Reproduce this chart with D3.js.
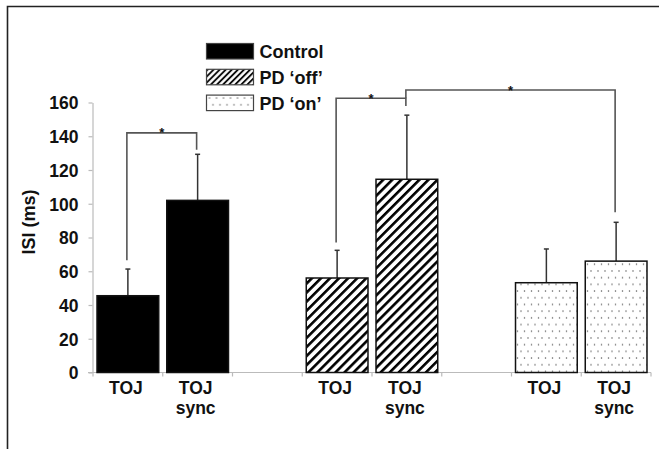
<!DOCTYPE html>
<html lang="en">
  <head>
    <meta charset="UTF-8" />
    <title>ISI bars</title>
    <script src="https://d3js.org/d3.v7.min.js"></script>
    <style>
      body { margin: 0; background: #fff; }
      svg text { font-family: "Liberation Sans", Arial, Helvetica, sans-serif; font-weight: bold; fill: #111; }
    </style>
  </head>
  <body>
    <svg width="659" height="449">
      <defs>
        <pattern id="hatch" patternUnits="userSpaceOnUse" width="6.4" height="6.4" patternTransform="rotate(45)">
          <rect width="6.4" height="6.4" fill="#fff"></rect>
          <line x1="1.3" y1="0" x2="1.3" y2="6.4" stroke="#000" stroke-width="2.6"></line>
        </pattern>
        <pattern id="hatchSmall" patternUnits="userSpaceOnUse" width="4.3" height="4.3" patternTransform="rotate(45)">
          <rect width="4.3" height="4.3" fill="#fff"></rect>
          <line x1="1" y1="0" x2="1" y2="4.3" stroke="#000" stroke-width="1.8"></line>
        </pattern>
        <pattern id="dots" patternUnits="userSpaceOnUse" width="7" height="13.4" x="2" y="2">
          <rect width="7" height="13.4" fill="#fff"></rect>
          <circle cx="1" cy="1" r="0.75" fill="#555"></circle>
          <circle cx="4.5" cy="7.7" r="0.75" fill="#555"></circle>
        </pattern>
      </defs>
    </svg>
    <script>
      // groups and conditions
      const groups = ["Control", "PD \u2018off\u2019", "PD \u2018on\u2019"];
      const conditions = ["TOJ", "TOJ sync"];

      // mean ISI (ms) and error (up only)
      const controlMeans = [45.5, 102];
      const controlErrors = [15.8, 27.3];
      const offMeans = [56, 114.5];
      const offErrors = [16.4, 38];
      const onMeans = [53.2, 66];
      const onErrors = [20, 23];

      const yTicks = [0, 20, 40, 60, 80, 100, 120, 140, 160];

      // significance brackets: [group, cond] pairs, bracket height and end heights
      const brackets = [
        { from: [0, 0], to: [0, 1], level: 142, ends: [66.5, 132] },
        { from: [1, 0], to: [1, 1], level: 162.5, ends: [77, 158] },
        { from: [1, 1], to: [2, 1], level: 167.4, ends: [162.5, 95] },
      ];

      const meansByGroup = [controlMeans, offMeans, onMeans];
      const errorsByGroup = [controlErrors, offErrors, onErrors];
      const fills = ["#000", "url(#hatch)", "url(#dots)"];
      const legendFills = ["#000", "url(#hatchSmall)", "url(#dots)"];

      let svg = d3.select("svg");

      // frame (top and left edges only)
      svg.append("path")
        .attr("d", "M7.5,449 L7.5,6.5 L659,6.5")
        .attr("fill", "none")
        .attr("stroke", "#222")
        .attr("stroke-width", 1.6);

      // slots: each group gets two bars, with an empty slot between groups
      let slots = [];
      groups.forEach((g, gi) => {
        conditions.forEach((c, ci) => slots.push(gi + "-" + ci));
        if (gi < groups.length - 1) slots.push("gap" + gi);
      });

      let rows = [];
      groups.forEach((g, gi) => {
        conditions.forEach((c, ci) => {
          rows.push({
            key: gi + "-" + ci,
            group: gi,
            cond: c,
            mean: meansByGroup[gi][ci],
            err: errorsByGroup[gi][ci],
          });
        });
      });

      let x = d3.scaleBand()
        .domain(slots)
        .range([93, 651])
        .paddingInner(0.115)
        .paddingOuter(0.0575);

      let y = d3.scaleLinear().domain([0, 160]).range([372.5, 102.5]);

      // y axis
      let yAxis = svg.append("g")
        .attr("transform", "translate(92.5,0)")
        .call(d3.axisLeft(y).tickValues(yTicks).tickSize(4).tickSizeOuter(0).tickPadding(10));
      yAxis.select(".domain").attr("stroke", "#bbb").attr("stroke-width", 1.2);
      yAxis.selectAll(".tick line").attr("stroke", "#bbb").attr("stroke-width", 1.2);
      yAxis.selectAll(".tick text")
        .style("font-size", "17.5px")
        .attr("dy", "0.36em");

      svg.append("text")
        .attr("transform", "translate(35,222) rotate(-90)")
        .attr("text-anchor", "middle")
        .style("font-size", "18px")
        .text("ISI (ms)");

      // x axis line with ticks on slot boundaries
      let step = x.step();
      let x0 = x(slots[0]) - (step * x.paddingInner()) / 2;
      svg.append("line")
        .attr("x1", 88).attr("x2", x0 + step * slots.length)
        .attr("y1", y(0)).attr("y2", y(0))
        .attr("stroke", "#bbb").attr("stroke-width", 1.2);
      svg.append("g")
        .selectAll("line")
        .data(d3.range(slots.length + 1))
        .join("line")
        .attr("x1", (i) => x0 + i * step)
        .attr("x2", (i) => x0 + i * step)
        .attr("y1", y(0))
        .attr("y2", y(0) + 4)
        .attr("stroke", "#bbb").attr("stroke-width", 1.2);

      // error bars (behind the bars)
      let errG = svg.append("g").attr("stroke", "#333").attr("stroke-width", 1.5);
      rows.forEach((d) => {
        let cx = x(d.key) + x.bandwidth() / 2;
        errG.append("line")
          .attr("x1", cx).attr("x2", cx)
          .attr("y1", y(d.mean)).attr("y2", y(d.mean + d.err));
        errG.append("line")
          .attr("x1", cx - 2.5).attr("x2", cx + 2.5)
          .attr("y1", y(d.mean + d.err)).attr("y2", y(d.mean + d.err));
      });

      // bars
      svg.append("g")
        .selectAll("rect")
        .data(rows)
        .join("rect")
        .attr("x", (d) => x(d.key))
        .attr("width", x.bandwidth())
        .attr("y", (d) => y(d.mean))
        .attr("height", (d) => y(0) - y(d.mean))
        .attr("fill", (d) => fills[d.group])
        .attr("stroke", "#111")
        .attr("stroke-width", 1.5);

      // category labels
      let labels = svg.append("g");
      rows.forEach((d) => {
        let cx = x(d.key) + x.bandwidth() / 2;
        let words = d.cond.split(" ");
        words.forEach((w, wi) => {
          labels.append("text")
            .attr("x", cx - 2)
            .attr("y", 393.5 + wi * 20.5)
            .attr("text-anchor", "middle")
            .style("font-size", "17.5px")
            .text(w);
        });
      });

      // significance brackets
      let bG = svg.append("g");
      brackets.forEach((b) => {
        let xa = x(b.from[0] + "-" + b.from[1]) + x.bandwidth() / 2 - 1;
        let xb = x(b.to[0] + "-" + b.to[1]) + x.bandwidth() / 2 - 1;
        bG.append("path")
          .attr("d", `M${xa},${y(b.ends[0])} L${xa},${y(b.level)} L${xb},${y(b.level)} L${xb},${y(b.ends[1])}`)
          .attr("fill", "none")
          .attr("stroke", "#555")
          .attr("stroke-width", 1.6);
        bG.append("text")
          .attr("x", (xa + xb) / 2)
          .attr("y", y(b.level) + 4.5)
          .attr("text-anchor", "middle")
          .style("font-size", "13px")
          .text("*");
      });

      // legend
      let legend = svg.append("g").attr("transform", "translate(206.5,43.5)");
      groups.forEach((g, gi) => {
        let row = legend.append("g").attr("transform", `translate(0,${gi * 25.8})`);
        row.append("rect")
          .attr("width", 47).attr("height", 15.5)
          .attr("fill", legendFills[gi])
          .attr("stroke", "#444").attr("stroke-width", 1.2);
        row.append("text")
          .attr("x", 53).attr("y", 14.8)
          .style("font-size", "18px")
          .text(g);
      });
    </script>
  </body>
</html>
